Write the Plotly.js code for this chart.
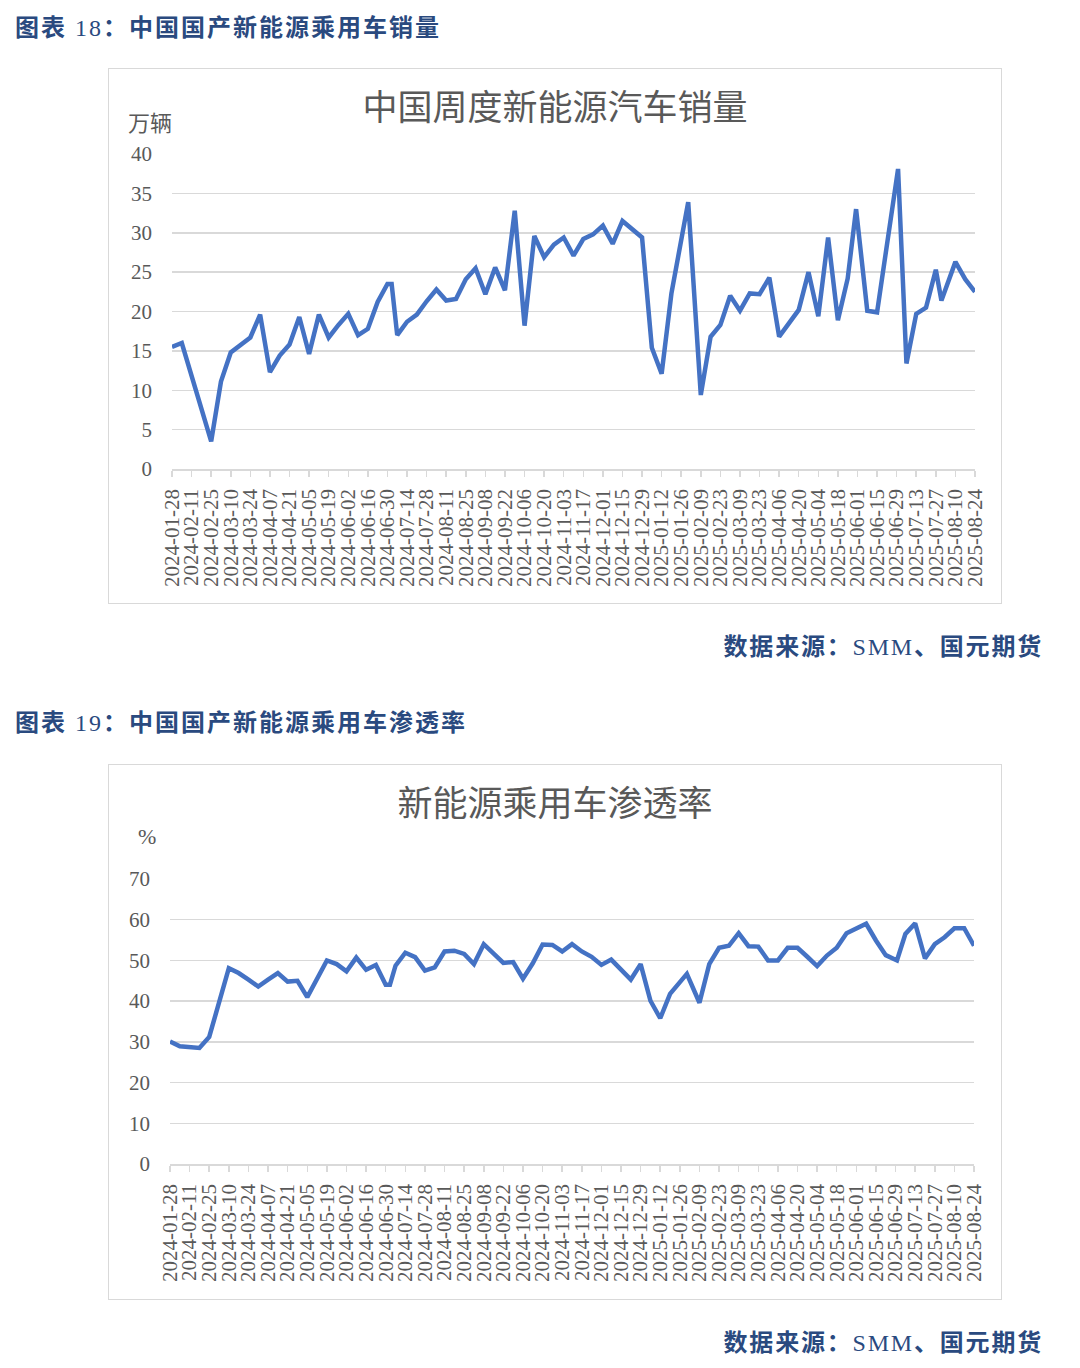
<!DOCTYPE html>
<html>
<head>
<meta charset="utf-8">
<script src="https://cdn.plot.ly/plotly-3.0.1.min.js"></script>
<style>
  html, body { margin: 0; padding: 0; background: #ffffff; }
  body { width: 1080px; height: 1368px; position: relative; overflow: hidden; }
  .cap { position: absolute; left: 15px; font-family: "Liberation Serif", "Noto Sans CJK SC", serif; font-size: 24px; line-height: 28px; color: #2a4a7f; font-weight: bold; letter-spacing: 2px; white-space: nowrap; }
  .cap .num { font-weight: normal; }
  .src { position: absolute; right: 37px; font-family: "Liberation Serif", "Noto Sans CJK SC", serif; font-size: 24px; line-height: 28px; color: #2a4a7f; font-weight: bold; letter-spacing: 1.8px; white-space: nowrap; }
  .src .num { font-weight: normal; }
  .box { position: absolute; left: 108px; width: 894px; height: 536px; border: 1.5px solid #d9d9d9; box-sizing: border-box; }
  .plot { position: absolute; left: -1.5px; top: -1.5px; width: 894px; height: 536px; }
</style>
</head>
<body>
<div class="cap" style="top:14px;">图表 <span class="num">18</span>：中国国产新能源乘用车销量</div>
<div class="box" style="top:68px;"><div id="c1" class="plot"></div></div>
<div class="src" style="top:633px;">数据来源：<span class="num">SMM</span>、国元期货</div>

<div class="cap" style="top:709px;">图表 <span class="num">19</span>：中国国产新能源乘用车渗透率</div>
<div class="box" style="top:764px;"><div id="c2" class="plot"></div></div>
<div class="src" style="top:1329px;">数据来源：<span class="num">SMM</span>、国元期货</div>

<script>
// ---- Chart 18 data: weekly NEV sales (万辆) ----
const salesDates = ['2024-01-28','2024-02-04','2024-02-25','2024-03-03','2024-03-10','2024-03-17','2024-03-24','2024-03-31','2024-04-07','2024-04-14','2024-04-21','2024-04-28','2024-05-05','2024-05-12','2024-05-19','2024-05-26','2024-06-02','2024-06-09','2024-06-16','2024-06-23','2024-06-30','2024-07-03','2024-07-07','2024-07-14','2024-07-21','2024-07-28','2024-08-04','2024-08-11','2024-08-18','2024-08-25','2024-09-01','2024-09-08','2024-09-15','2024-09-22','2024-09-29','2024-10-06','2024-10-13','2024-10-20','2024-10-27','2024-11-03','2024-11-10','2024-11-17','2024-11-24','2024-12-01','2024-12-08','2024-12-15','2024-12-22','2024-12-29','2025-01-05','2025-01-12','2025-01-19','2025-01-31','2025-02-09','2025-02-16','2025-02-23','2025-03-02','2025-03-09','2025-03-16','2025-03-23','2025-03-30','2025-04-06','2025-04-13','2025-04-20','2025-04-27','2025-05-04','2025-05-11','2025-05-18','2025-05-25','2025-05-31','2025-06-08','2025-06-15','2025-06-30','2025-07-06','2025-07-13','2025-07-20','2025-07-27','2025-07-31','2025-08-10','2025-08-17','2025-08-24'];
const salesValues = [15.5,16.0,3.5,11.1,14.8,15.8,16.7,19.6,12.3,14.4,15.8,19.3,14.6,19.6,16.7,18.3,19.7,17.0,17.8,21.2,23.5,23.5,17.0,18.7,19.6,21.3,22.8,21.4,21.6,24.1,25.5,22.2,25.6,22.7,32.8,18.2,29.6,26.9,28.5,29.4,27.1,29.2,29.8,30.9,28.6,31.5,30.4,29.4,15.4,12.1,22.3,33.9,9.4,16.8,18.3,22.0,20.1,22.3,22.2,24.3,16.8,18.6,20.2,25.0,19.4,29.4,18.9,24.2,33.0,20.1,19.9,38.1,13.4,19.7,20.5,25.3,21.4,26.3,24.1,22.5];

// ---- Chart 19 data: NEV passenger-car penetration (%) ----
const penDates = ['2024-01-28','2024-02-04','2024-02-18','2024-02-25','2024-03-10','2024-03-17','2024-03-24','2024-03-31','2024-04-07','2024-04-14','2024-04-21','2024-04-28','2024-05-05','2024-05-12','2024-05-19','2024-05-26','2024-06-02','2024-06-09','2024-06-16','2024-06-23','2024-06-30','2024-07-03','2024-07-07','2024-07-14','2024-07-21','2024-07-28','2024-08-04','2024-08-11','2024-08-18','2024-08-25','2024-09-01','2024-09-08','2024-09-15','2024-09-22','2024-09-29','2024-10-06','2024-10-13','2024-10-20','2024-10-27','2024-11-03','2024-11-10','2024-11-17','2024-11-24','2024-12-01','2024-12-08','2024-12-15','2024-12-22','2024-12-29','2025-01-05','2025-01-12','2025-01-19','2025-01-31','2025-02-09','2025-02-16','2025-02-23','2025-03-02','2025-03-09','2025-03-16','2025-03-23','2025-03-30','2025-04-06','2025-04-13','2025-04-20','2025-04-27','2025-05-04','2025-05-11','2025-05-18','2025-05-25','2025-05-31','2025-06-08','2025-06-15','2025-06-22','2025-06-30','2025-07-06','2025-07-13','2025-07-20','2025-07-27','2025-08-03','2025-08-10','2025-08-17','2025-08-24'];
const penValues = [30.1,28.9,28.5,31.2,48.1,46.9,45.3,43.6,45.3,46.9,44.8,45.0,41.0,45.3,50.0,49.1,47.3,50.7,47.7,48.9,44.0,44.0,48.7,51.9,50.8,47.5,48.3,52.2,52.4,51.6,49.1,54.0,51.8,49.4,49.6,45.5,49.3,53.9,53.8,52.2,54.0,52.2,50.9,48.9,50.2,47.9,45.3,49.1,40.1,35.8,41.8,46.7,39.6,49.1,53.1,53.6,56.7,53.5,53.4,50.0,50.0,53.1,53.1,50.9,48.6,51.2,53.1,56.7,57.7,59.0,54.9,51.3,50.0,56.5,59.1,50.5,54.0,55.7,57.9,57.9,53.6];

// ---- Text ----
const title1 = '中国周度新能源汽车销量';
const title2 = '新能源乘用车渗透率';
const unit1 = '万辆';
const unit2 = '%';
const xStart = '2024-01-28';
const xEnd = '2025-08-24';

const gray = '#595959';
const gridGray = '#d9d9d9';
const lineBlue = '#4472C4';
const tickFont = {family: 'Liberation Serif, Times New Roman, serif', size: 21, color: gray};

function makeLayout(title, unitText, unitFont, yMax, yStep, margin, unitX, unitY) {
  return {
    width: 894, height: 536,
    margin: margin,
    paper_bgcolor: 'rgba(0,0,0,0)',
    plot_bgcolor: 'rgba(0,0,0,0)',
    showlegend: false,
    title: {
      text: title,
      font: {family: 'Noto Sans CJK SC, sans-serif', size: 35, color: gray},
      xref: 'container', x: 0.5, xanchor: 'center',
      yref: 'container', y: 1 - 40/536, yanchor: 'middle'
    },
    xaxis: {
      type: 'date',
      range: [xStart, xEnd],
      tick0: xStart,
      dtick: 14 * 86400000,
      tickformat: '%Y-%m-%d',
      tickangle: -90,
      ticks: 'outside', ticklen: 6, tickwidth: 1.5, tickcolor: gridGray,
      showline: true, linecolor: gridGray, linewidth: 1.5,
      showgrid: false, zeroline: false,
      tickfont: tickFont,
      ticklabelstandoff: 4,
      fixedrange: true
    },
    yaxis: {
      range: [0, yMax],
      dtick: yStep, tick0: 0,
      showgrid: true, gridcolor: gridGray, gridwidth: 1.5,
      zeroline: false, showline: false,
      ticks: '',
      tickfont: tickFont,
      ticklabelstandoff: 19,
      fixedrange: true
    },
    annotations: [{
      text: unitText, showarrow: false,
      xref: 'paper', yref: 'paper',
      x: unitX, y: unitY, xanchor: 'center', yanchor: 'middle',
      font: unitFont
    }]
  };
}

const cfg = {displayModeBar: false, staticPlot: true};

Plotly.newPlot('c1', [{
  x: salesDates, y: salesValues, type: 'scatter', mode: 'lines',
  line: {color: lineBlue, width: 4.5, shape: 'linear'}
}], makeLayout(title1, unit1, {family: 'Noto Sans CJK SC, sans-serif', size: 22, color: gray},
  40, 5, {l: 64, r: 27, t: 86, b: 135, pad: 0}, (42 - 64) / 803, 1 + 33 / 315), cfg);

Plotly.newPlot('c2', [{
  x: penDates, y: penValues, type: 'scatter', mode: 'lines',
  line: {color: lineBlue, width: 4.5, shape: 'linear'}
}], makeLayout(title2, unit2, {family: 'Liberation Serif, serif', size: 22, color: gray},
  70, 10, {l: 62, r: 28, t: 115, b: 136, pad: 0}, (39 - 62) / 804, 1 + 43 / 285), cfg);
</script>
</body>
</html>
